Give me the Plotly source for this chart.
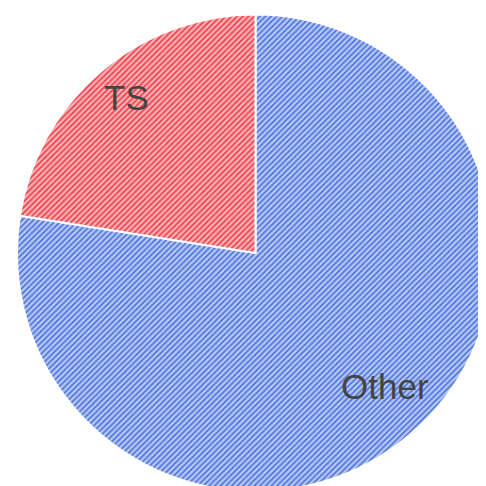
import math
import plotly.graph_objects as go

labels = ["Other", "TS"]
values = [77.5, 22.5]
fg_colors = ["#4a70da", "#ef3a46"]
bg_colors = ["#b6c9f6", "#fdb4b6"]

W, H = 486, 486
margin = dict(l=9, r=0, t=5, b=1)
label_radius = 0.795  # fraction of pie radius
label_lift = 11       # px, labels sit slightly above the radial point

fig = go.Figure(go.Pie(
    labels=labels,
    values=values,
    sort=False,
    direction="clockwise",
    rotation=0,
    textinfo="none",
    marker=dict(
        colors=bg_colors,
        line=dict(color="white", width=2),
        pattern=dict(shape="/", fgcolor=fg_colors, bgcolor=bg_colors, size=4, solidity=0.4),
    ),
    showlegend=False,
    hoverinfo="label+percent",
))

# place labels along each slice's bisector (computed from values), clockwise from 12 o'clock
pw = W - margin["l"] - margin["r"]
ph = H - margin["t"] - margin["b"]
R = min(pw, ph) / 2
cx, cy = pw / 2, ph / 2
total = sum(values)
start = 0.0
annotations = []
for lab, v in zip(labels, values):
    mid = start + v / 2
    ang = 2 * math.pi * mid / total
    x = cx + label_radius * R * math.sin(ang) * 1.05
    y = cy + label_radius * R * math.cos(ang)
    annotations.append(dict(
        x=x / pw, y=y / ph, xref="paper", yref="paper",
        text=lab, showarrow=False, yshift=label_lift,
        font=dict(family="Liberation Sans, Arial, sans-serif", size=35, color="#444444"),
        xanchor="center", yanchor="middle",
    ))
    start += v

fig.update_layout(
    width=W, height=H,
    margin=margin,
    paper_bgcolor="white",
    plot_bgcolor="white",
    annotations=annotations,
)

fig.write_html("out.html")
